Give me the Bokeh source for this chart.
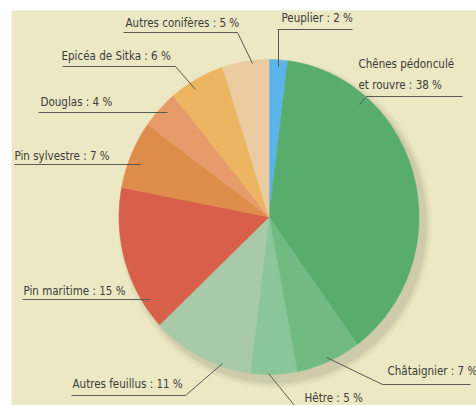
import numpy as np
from bokeh.plotting import figure
from bokeh.models import Range1d, ColumnDataSource
from bokeh.core.properties import value
from bokeh.embed import file_html
from bokeh.resources import INLINE

# ---- data (clockwise from 12 o'clock) ----
species = ["Peuplier", "Chênes pédonculé et rouvre", "Châtaignier", "Hêtre",
           "Autres feuillus", "Pin maritime", "Pin sylvestre", "Douglas",
           "Epicéa de Sitka", "Autres conifères"]
shares = [2, 38, 7, 5, 11, 15, 7, 4, 6, 5]
colors = ["#5bb5e8", "#58ad6d", "#72ba84", "#8bc69b", "#a9caa9",
          "#d8604a", "#de8c4a", "#e79a6a", "#ebb562", "#eacca0"]
labels = ["Peuplier : 2 %", "Chênes pédonculé\net rouvre : 38 %", "Châtaignier : 7 %",
          "Hêtre : 5 %", "Autres feuillus : 11 %", "Pin maritime : 15 %",
          "Pin sylvestre : 7 %", "Douglas : 4 %", "Epicéa de Sitka : 6 %",
          "Autres conifères : 5 %"]

H = 405  # page height used to flip reference y
def Y(v):
    return H - v

p = figure(width=476, height=405, output_backend="svg", toolbar_location=None,
           x_range=Range1d(11, 476), y_range=Range1d(Y(405), Y(10)),
           min_border_left=11, min_border_top=10, min_border_right=0, min_border_bottom=0)
p.axis.visible = False
p.grid.visible = False
p.outline_line_color = None
p.background_fill_color = "#ece8c3"
p.border_fill_color = "white"

cx, cy = 268.5, Y(216.5)
rx, ry = 150, 157.5

# soft shadow
for k, a in [(14, 0.035), (10, 0.045), (6, 0.06), (3, 0.07)]:
    p.ellipse(x=cx + 6, y=cy - 7, width=2 * rx + k, height=2 * ry + k,
              fill_color="#5a5640", fill_alpha=a, line_color=None)

# slices as elliptical wedges
total = float(sum(shares))
cum = np.cumsum([0] + shares) / total
xs, ys = [], []
for i in range(len(shares)):
    t = np.linspace(cum[i], cum[i + 1], max(4, int(shares[i] * 4))) * 2 * np.pi
    xs.append([cx] + list(cx + rx * np.sin(t)))
    ys.append([cy] + list(cy + ry * np.cos(t)))
src = ColumnDataSource(dict(xs=xs, ys=ys, color=colors, name=species))
p.patches("xs", "ys", source=src, fill_color="color", line_color="color", line_width=0.5)

font = value("DejaVu Sans Condensed, DejaVu Sans, sans-serif")
tc = "#3c3c3a"
lc = "#5a5a55"

# label positions (layout)
lab_x = [281, 358, 387, 304, 72, 23, 14, 40, 61, 125]
lab_y = [17, 74, 370, 397, 383, 290, 155, 101, 55, 22]
p.text(x=lab_x, y=[Y(v) for v in lab_y], text=labels, text_font=font,
       text_font_size="11.5px", text_color=tc, text_baseline="middle",
       text_align="left", text_line_height=1.5)

# underline + leader lines (layout)
lines = [
    [(277, 29), (352, 29)], [(278, 29), (278, 66)],
    [(366, 96), (462, 96)], [(366, 96), (359, 104)],
    [(382, 384), (470, 384)], [(382, 384), (326, 357)],
    [(268, 373), (294, 405)],
    [(71, 395), (185, 395)], [(185, 395), (222, 363)],
    [(22, 299), (150, 299)],
    [(14, 164), (140, 164)],
    [(38, 112), (167, 112)],
    [(62, 66), (175, 66)], [(175, 66), (195, 89)],
    [(123, 32), (237, 32)], [(237, 32), (252, 63)],
]
p.multi_line(xs=[[a[0], b[0]] for a, b in lines],
             ys=[[Y(a[1]), Y(b[1])] for a, b in lines],
             line_color=lc, line_width=1)

open("out.html", "w").write(file_html(p, INLINE))
